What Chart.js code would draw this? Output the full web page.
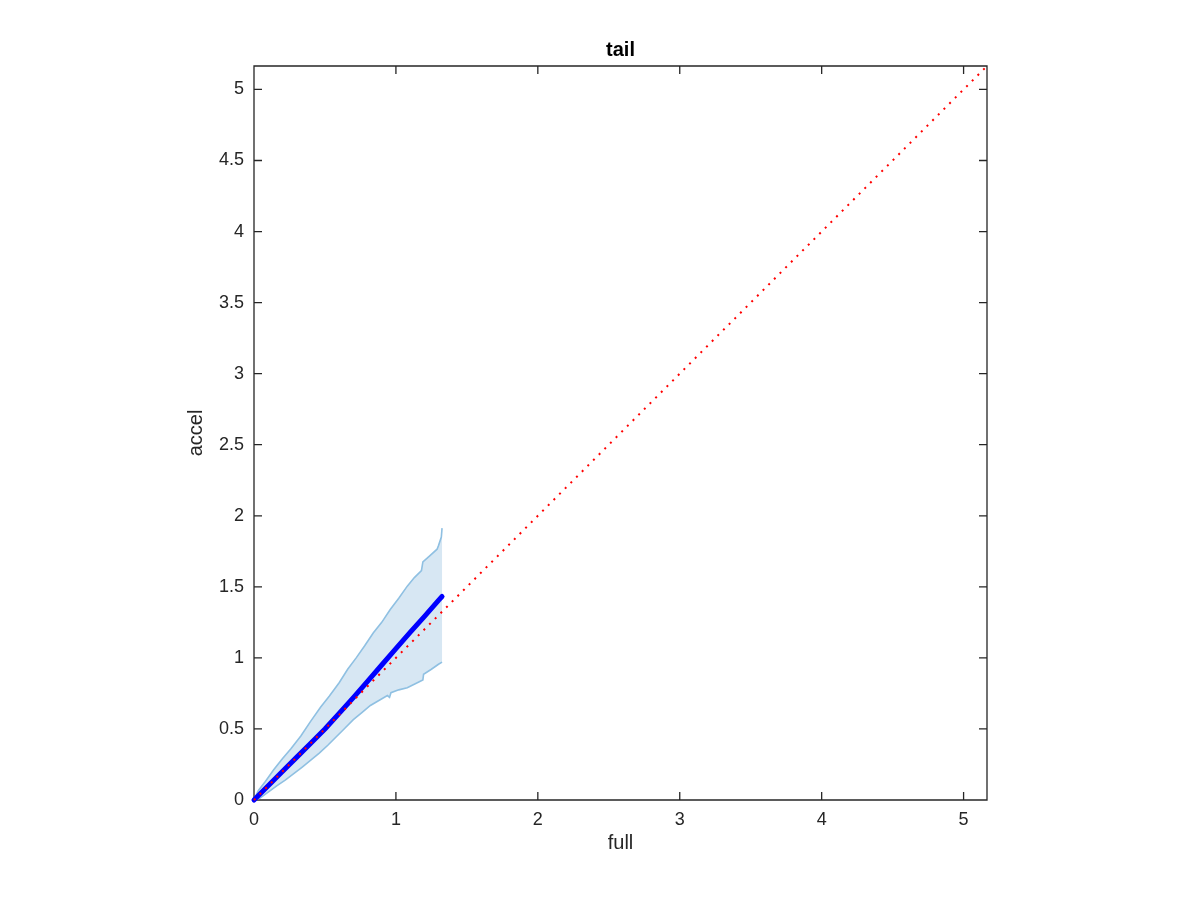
<!DOCTYPE html>
<html>
<head>
<meta charset="utf-8">
<script src="https://cdn.jsdelivr.net/npm/chart.js@4.4.1/dist/chart.umd.min.js"></script>
<style>
  html, body { margin: 0; padding: 0; background: #fff; }
</style>
</head>
<body>
<canvas id="tailChart" width="1200" height="900"></canvas>
<script>
// axis limits and ticks
const axisMax = 5.165;
const xTicks = [0, 1, 2, 3, 4, 5];
const yTicks = [0, 0.5, 1, 1.5, 2, 2.5, 3, 3.5, 4, 4.5, 5];

// reference diagonal y = x
const diagX = [0, 5.165];
const diagY = [0, 5.165];

// mean curve
const meanX = [0, 0.1, 0.2, 0.3, 0.4, 0.5, 0.6, 0.7, 0.8, 0.9, 1.0, 1.1, 1.2, 1.3, 1.325];
const meanY = [0, 0.1, 0.2, 0.3, 0.4, 0.5, 0.61, 0.72, 0.835, 0.95, 1.065, 1.18, 1.29, 1.405, 1.432];

// upper edge of the band
const upperX = [0, 0.03, 0.08, 0.14, 0.2, 0.26, 0.33, 0.4, 0.47, 0.53, 0.6, 0.66, 0.72, 0.78, 0.84, 0.9, 0.96, 1.02, 1.08, 1.13, 1.18, 1.19, 1.24, 1.29, 1.3, 1.32, 1.325];
const upperY = [0, 0.065, 0.13, 0.215, 0.29, 0.36, 0.45, 0.555, 0.655, 0.73, 0.825, 0.92, 1.0, 1.085, 1.175, 1.25, 1.34, 1.42, 1.505, 1.565, 1.615, 1.675, 1.72, 1.765, 1.79, 1.85, 1.913];

// lower edge of the band
const lowerX = [0, 0.04, 0.1, 0.16, 0.22, 0.28, 0.34, 0.4, 0.46, 0.52, 0.58, 0.64, 0.7, 0.76, 0.82, 0.88, 0.94, 0.955, 0.965, 1.02, 1.08, 1.14, 1.19, 1.195, 1.25, 1.3, 1.325];
const lowerY = [0, 0.012, 0.055, 0.1, 0.14, 0.185, 0.232, 0.28, 0.33, 0.385, 0.445, 0.505, 0.565, 0.615, 0.665, 0.7, 0.735, 0.722, 0.755, 0.775, 0.79, 0.82, 0.845, 0.885, 0.92, 0.955, 0.97];

const pts = (xs, ys) => xs.map((x, i) => ({x: x, y: ys[i]}));
const bandShape = pts(upperX, upperY).concat(pts(lowerX, lowerY).reverse());

const fontFamily = '"Liberation Sans", Arial, Helvetica, sans-serif';
const axisColor = '#262626';

// box around the plot with inward ticks on all four sides
const framePlugin = {
  id: 'frame',
  beforeDatasetsDraw(chart) {
    const {ctx, chartArea: a, scales} = chart;
    ctx.save();
    ctx.strokeStyle = axisColor;
    ctx.lineWidth = 1.3;
    ctx.beginPath();
    ctx.rect(a.left, a.top, a.right - a.left, a.bottom - a.top);
    xTicks.forEach(v => {
      const px = scales.x.getPixelForValue(v);
      ctx.moveTo(px, a.bottom); ctx.lineTo(px, a.bottom - 8);
      ctx.moveTo(px, a.top); ctx.lineTo(px, a.top + 8);
    });
    yTicks.forEach(v => {
      const py = scales.y.getPixelForValue(v);
      ctx.moveTo(a.left, py); ctx.lineTo(a.left + 8, py);
      ctx.moveTo(a.right, py); ctx.lineTo(a.right - 8, py);
    });
    ctx.stroke();
    ctx.restore();
  }
};

const ctx = document.getElementById('tailChart').getContext('2d');
const chart = new Chart(ctx, {
  type: 'line',
  data: {
    datasets: [
      {
        label: 'diag',
        data: pts(diagX, diagY),
        borderColor: '#ff0000',
        borderWidth: 2,
        borderDash: [2, 6],
        pointRadius: 0,
        fill: false,
        clip: false
      },
      {
        label: 'mean',
        data: pts(meanX, meanY),
        borderColor: '#0000ff',
        borderWidth: 5,
        borderCapStyle: 'round',
        borderJoinStyle: 'round',
        pointRadius: 0,
        fill: false,
        clip: false
      },
      {
        label: 'upper',
        data: pts(upperX, upperY),
        borderColor: '#8fc0e2',
        borderWidth: 1.6,
        pointRadius: 0,
        fill: false
      },
      {
        label: 'lower',
        data: pts(lowerX, lowerY),
        borderColor: '#8fc0e2',
        borderWidth: 1.6,
        pointRadius: 0,
        fill: false
      },
      {
        label: 'band',
        data: bandShape,
        borderWidth: 0,
        borderColor: 'rgba(0,0,0,0)',
        backgroundColor: '#d7e7f3',
        pointRadius: 0,
        fill: 'shape'
      }
    ]
  },
  options: {
    responsive: false,
    animation: false,
    layout: {
      padding: {left: 184, right: 213, top: 0, bottom: 0}
    },
    plugins: {
      legend: {display: false},
      tooltip: {enabled: false},
      title: {
        display: true,
        text: 'tail',
        fullSize: false,
        color: '#000',
        font: {family: fontFamily, size: 20, weight: 'bold'},
        padding: {top: 38, bottom: 4}
      }
    },
    scales: {
      x: {
        type: 'linear',
        min: 0,
        max: axisMax,
        afterBuildTicks: s => { s.ticks = xTicks.map(v => ({value: v})); },
        afterFit: s => { s.height = 100; },
        grid: {display: false, drawTicks: false},
        border: {display: false},
        ticks: {
          color: axisColor,
          font: {family: fontFamily, size: 18},
          padding: 9,
          maxRotation: 0,
          autoSkip: false,
          callback: v => String(v)
        },
        title: {
          display: true,
          text: 'full',
          color: axisColor,
          font: {family: fontFamily, size: 20},
          padding: {top: 0, bottom: 45}
        }
      },
      y: {
        type: 'linear',
        min: 0,
        max: axisMax,
        afterBuildTicks: s => { s.ticks = yTicks.map(v => ({value: v})); },
        afterFit: s => { s.width = 70; },
        grid: {display: false, drawTicks: false},
        border: {display: false},
        ticks: {
          color: axisColor,
          font: {family: fontFamily, size: 18},
          padding: 10,
          autoSkip: false,
          callback: v => String(v)
        },
        title: {
          display: true,
          text: 'accel',
          color: axisColor,
          font: {family: fontFamily, size: 20},
          padding: {top: 0, bottom: 0}
        }
      }
    }
  },
  plugins: [framePlugin]
});
</script>
</body>
</html>
